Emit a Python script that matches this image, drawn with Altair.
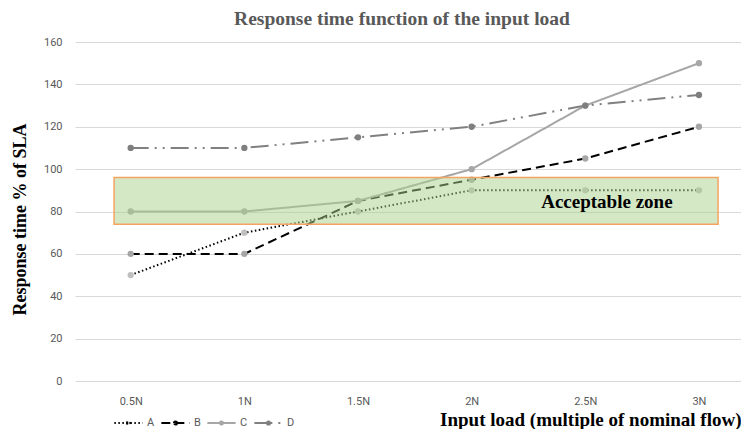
import altair as alt
import pandas as pd

loads = [0.5, 1.0, 1.5, 2.0, 2.5, 3.0]
series_a = [50, 70, 80, 90, 90, 90]
series_b = [60, 60, 85, 95, 105, 120]
series_c = [80, 80, 85, 100, 130, 150]
series_d = [110, 110, 115, 120, 130, 135]
series_names = ["A", "B", "C", "D"]
zone_x = [0.427, 3.084]
zone_y = [74, 96]
zone_label = "Acceptable zone"
zone_label_pos = [2.595, 84.5]

rows = []
for name, vals in zip(series_names, [series_a, series_b, series_c, series_d]):
    for x, v in zip(loads, vals):
        rows.append({"load": x, "value": v, "series": name})
df = pd.DataFrame(rows)

zone_df = pd.DataFrame([{"x": zone_x[0], "x2": zone_x[1], "y": zone_y[0], "y2": zone_y[1]}])
label_df = pd.DataFrame([{"x": zone_label_pos[0], "y": zone_label_pos[1], "t": zone_label}])

xscale = alt.Scale(domain=[0.255, 3.185], nice=False, zero=False)
yscale = alt.Scale(domain=[0, 160], nice=False)

label_font = "Liberation Sans Narrow, Roboto, sans-serif"
serif = "Liberation Serif, DejaVu Serif, serif"

x_axis = alt.Axis(
    values=loads, labelExpr="datum.value + 'N'", grid=False, domain=False, ticks=False,
    labelPadding=14, labelFontSize=11, labelColor="#595959", labelFont=label_font,
    title="Input load (multiple of nominal flow)", titleFont=serif, titleFontSize=19,
    titleFontWeight="bold", titleColor="#000000", titleAnchor="end", titlePadding=4,
)
y_axis = alt.Axis(
    values=[0, 20, 40, 60, 80, 100, 120, 140, 160], grid=True, gridColor="#d9d9d9",
    gridWidth=1, domain=False, ticks=False, labelPadding=13, labelFontSize=11,
    labelColor="#595959", labelFont=label_font,
    title="Response time % of SLA", titleFont=serif, titleFontSize=18,
    titleFontWeight="bold", titleColor="#000000", titlePadding=14, titleY=177,
)

legend_symbol = "M-1,0L1,0M-0.11,0A0.11,0.11,0,1,1,0.11,0A0.11,0.11,0,1,1,-0.11,0Z"

lines = alt.Chart(df).mark_line(strokeWidth=2).encode(
    x=alt.X("load:Q", scale=xscale, axis=x_axis),
    y=alt.Y("value:Q", scale=yscale, axis=y_axis),
    stroke=alt.Stroke("series:N", scale=alt.Scale(domain=series_names,
                      range=["#000000", "#000000", "#a6a6a6", "#808080"]),
                      legend=alt.Legend(title=None, orient="none", legendX=38, legendY=365,
                                        direction="horizontal", symbolType=legend_symbol,
                                        symbolSize=800, symbolStrokeWidth=2,
                                        labelFont=label_font, labelFontSize=11,
                                        labelColor="#595959", columnPadding=2,
                                        labelOffset=3)),
    strokeDash=alt.StrokeDash("series:N", scale=alt.Scale(domain=series_names,
                              range=[[1.5, 2.5], [9, 5], [1, 0], [18, 6, 2, 6, 2, 6]])),
)

points = alt.Chart(df).mark_circle(size=40, opacity=1).encode(
    x=alt.X("load:Q", scale=xscale),
    y=alt.Y("value:Q", scale=yscale),
    fill=alt.Fill("series:N", scale=alt.Scale(domain=series_names,
                  range=["#bfbfbf", "#a6a6a6", "#a6a6a6", "#7f7f7f"]), legend=None),
)

zone = alt.Chart(zone_df).mark_rect(fill="#a9d18e", fillOpacity=0.5, stroke="#f4a460",
                                    strokeWidth=1.5).encode(
    x=alt.X("x:Q", scale=xscale), x2="x2", y=alt.Y("y:Q", scale=yscale), y2="y2")

label = alt.Chart(label_df).mark_text(font=serif, fontSize=19, fontWeight="bold",
                                      color="#000000", baseline="middle").encode(
    x=alt.X("x:Q", scale=xscale), y=alt.Y("y:Q", scale=yscale), text="t:N")

chart = alt.layer(lines, points, zone, label).properties(
    width=666, height=339,
    title=alt.TitleParams("Response time function of the input load", font=serif,
                          fontSize=19.5, fontWeight="bold", color="#595959", offset=7,
                          dx=-6),
    autosize=alt.AutoSizeParams(type="none"),
    padding={"left": 67, "top": 34, "right": 0, "bottom": 48},
).configure_view(stroke=None).configure_axis(labelFlush=False)

chart.save("out.html", embed_options={"renderer": "svg", "actions": False})
